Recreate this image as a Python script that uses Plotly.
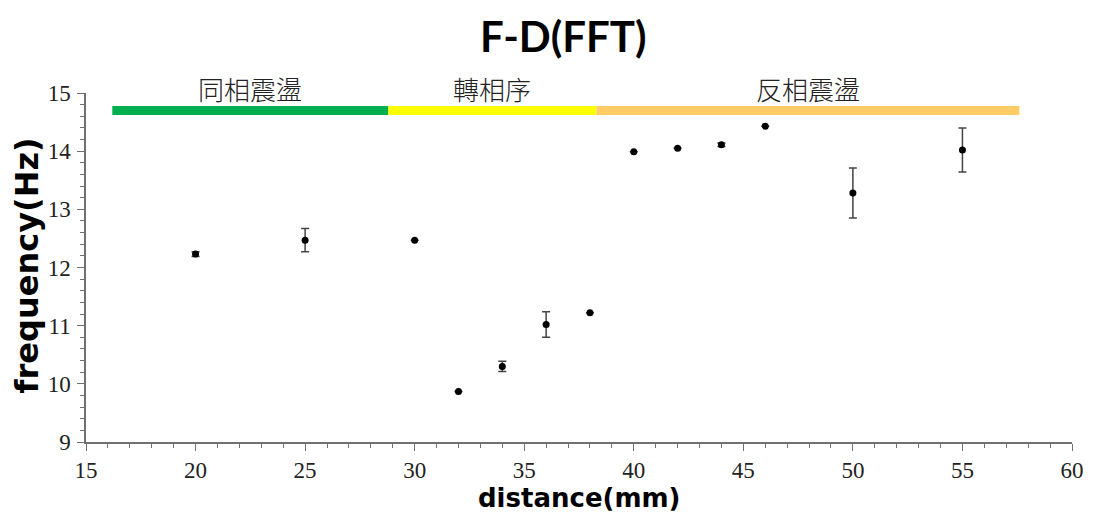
import plotly.graph_objects as go

# Measured distance (mm), FFT peak frequency (Hz) and its spread
distance_mm = [20, 25, 30, 32, 34, 36, 38, 40, 42, 44, 46, 50, 55]
frequency_hz = [12.23, 12.47, 12.47, 9.87, 10.30, 11.02, 11.22, 13.99, 14.05, 14.11, 14.43, 13.28, 14.02]
frequency_err = [0.04, 0.20, 0.0, 0.0, 0.09, 0.22, 0.0, 0.0, 0.0, 0.03, 0.0, 0.43, 0.38]

# Oscillation regimes drawn as coloured bands across the top
regime_names = ["同相震盪", "轉相序", "反相震盪"]
regime_start = [16.2, 28.8, 38.3]
regime_end = [28.8, 38.3, 57.6]
regime_colors = ["#00B050", "#FFFF00", "#FFCC66"]
regime_level = 14.70

x_ticks = [15, 20, 25, 30, 35, 40, 45, 50, 55, 60]
y_ticks = [9, 10, 11, 12, 13, 14, 15]

# Plot-area geometry in pixels (used to place the free-standing texts)
left_px, right_px, top_px, bottom_px = 85.7, 1081.6, 93.3, 441.7
plot_w = right_px - left_px
plot_h = bottom_px - top_px


def paper_x(px):
    return (px - left_px) / plot_w


def paper_y(py):
    return (bottom_px - py) / plot_h


fig = go.Figure()

for name, x0, x1, col in zip(regime_names, regime_start, regime_end, regime_colors):
    fig.add_trace(go.Scatter(
        x=[x0, x1], y=[regime_level, regime_level], mode="lines",
        line=dict(color=col, width=9), hoverinfo="skip", showlegend=False,
    ))
    fig.add_annotation(
        x=(x0 + x1) / 2, y=paper_y(89), xref="x", yref="paper", text=name, showarrow=False,
        font=dict(family="Noto Sans CJK TC", size=26, color="#222222", weight=300),
        yanchor="middle", xanchor="center",
    )

fig.add_trace(go.Scatter(
    x=distance_mm, y=frequency_hz, mode="markers",
    marker=dict(color="black", size=7),
    error_y=dict(type="data", array=frequency_err, visible=True,
                 color="#444444", thickness=1.5, width=4),
    showlegend=False,
))

tick_font = dict(family="Liberation Serif", size=23, color="#222222")
axis_common = dict(
    showgrid=False, zeroline=False, showline=True, linecolor="#707070", linewidth=1.5,
    ticks="outside", ticklen=7, tickwidth=1.2, tickcolor="#707070",
    tickfont=tick_font, mirror=False,
)

fig.update_xaxes(
    range=[15, 60], tickvals=x_ticks, ticklabelstandoff=0,
    minor=dict(dtick=1, ticks="outside", ticklen=4, tickcolor="#707070", tickwidth=1.2),
    **axis_common,
)
fig.update_yaxes(
    range=[9, 15], tickvals=y_ticks, ticklabelstandoff=2,
    minor=dict(dtick=0.2, ticks="outside", ticklen=4, tickcolor="#707070", tickwidth=1.2),
    **axis_common,
)

# Title and axis titles
fig.add_annotation(
    text="<b>F-D(FFT)</b>", x=paper_x(568), y=paper_y(36), xref="paper", yref="paper",
    showarrow=False, font=dict(family="Lato", size=42, color="black"),
    xanchor="center", yanchor="middle",
)
fig.add_annotation(
    text="<b>distance(mm)</b>", x=paper_x(584), y=paper_y(514),
    xref="paper", yref="paper", showarrow=False, borderpad=0,
    font=dict(family="DejaVu Sans", size=26, color="black"),
    xanchor="center", yanchor="bottom",
)
fig.add_annotation(
    text="<b>frequency(Hz)</b>", x=paper_x(27), y=paper_y(265.5),
    xref="paper", yref="paper", showarrow=False, textangle=-90,
    font=dict(family="DejaVu Sans", size=32, color="black"),
    xanchor="center", yanchor="middle",
)

fig.update_layout(
    width=1096, height=514,
    margin=dict(l=left_px, r=1096 - right_px, t=top_px, b=514 - bottom_px),
    paper_bgcolor="white", plot_bgcolor="white",
)

fig.write_html("out.html")
